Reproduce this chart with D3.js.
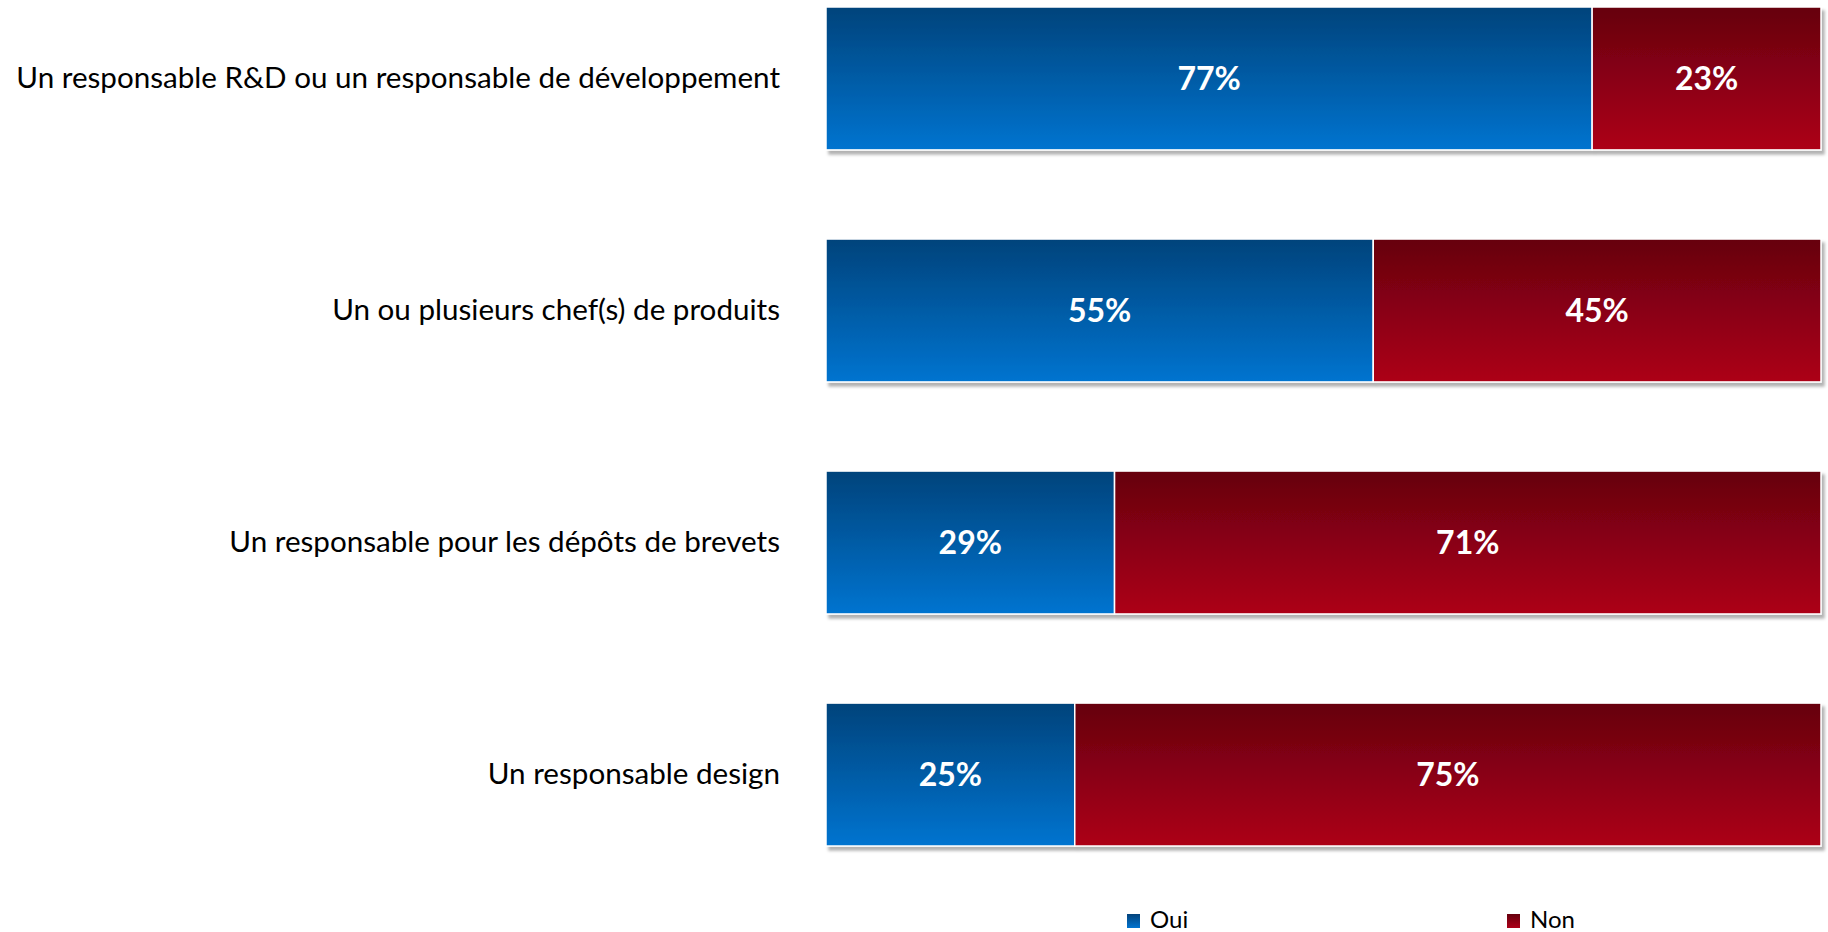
<!DOCTYPE html>
<html>
<head>
<meta charset="utf-8">
<script src="https://cdn.jsdelivr.net/npm/d3@7"></script>
<style>
  html, body { margin: 0; padding: 0; background: #ffffff; }
  svg { display: block; }
</style>
</head>
<body>
<svg id="chart" width="1828" height="932"></svg>
<script>
// Categories (top to bottom) and the share answering each way, in percent
const categories = [
  "Un responsable R&D ou un responsable de développement",
  "Un ou plusieurs chef(s) de produits",
  "Un responsable pour les dépôts de brevets",
  "Un responsable design"
];
const oui = [77, 55, 29, 25];
const non = [23, 45, 71, 75];
const seriesNames = ["Oui", "Non"];

const svg = d3.select("#chart");
const fontFamily = "Lato, 'Open Sans', sans-serif";

const x = d3.scaleLinear().domain([0, 100]).range([826, 1821]);
const y = d3.scaleBand().domain(categories).range([7, 846]).paddingInner(0.384).paddingOuter(0);

const defs = svg.append("defs");
const gradBlue = defs.append("linearGradient").attr("id", "gOui").attr("x1", 0).attr("y1", 0).attr("x2", 0).attr("y2", 1);
gradBlue.append("stop").attr("offset", "0%").attr("stop-color", "#03437b");
gradBlue.append("stop").attr("offset", "100%").attr("stop-color", "#0174d0");
const gradRed = defs.append("linearGradient").attr("id", "gNon").attr("x1", 0).attr("y1", 0).attr("x2", 0).attr("y2", 1);
gradRed.append("stop").attr("offset", "0%").attr("stop-color", "#66000e");
gradRed.append("stop").attr("offset", "100%").attr("stop-color", "#ad0019");

const shadow = defs.append("filter").attr("id", "shadow").attr("x", "-5%").attr("y", "-10%").attr("width", "115%").attr("height", "130%");
shadow.append("feDropShadow").attr("dx", 3).attr("dy", 4).attr("stdDeviation", 1.5)
  .attr("flood-color", "#000").attr("flood-opacity", 0.3);

const fills = ["url(#gOui)", "url(#gNon)"];
const rows = categories.map((c, i) => ({ cat: c, parts: [
  { name: "Oui", x0: 0, x1: oui[i] },
  { name: "Non", x0: oui[i], x1: oui[i] + non[i] }
]}));

const rowG = svg.selectAll("g.row").data(rows).join("g").attr("class", "row")
  .attr("filter", "url(#shadow)");

rowG.selectAll("rect").data(d => d.parts.map(p => ({ ...p, cat: d.cat }))).join("rect")
  .attr("x", d => x(d.x0))
  .attr("y", d => y(d.cat))
  .attr("width", d => x(d.x1) - x(d.x0))
  .attr("height", y.bandwidth())
  .attr("fill", (d, i) => fills[i])
  .attr("stroke", "#ffffff")
  .attr("stroke-width", 1.5);

// Value labels inside each segment
svg.selectAll("g.vals").data(rows).join("g").attr("class", "vals")
  .selectAll("text").data(d => d.parts.map(p => ({ ...p, cat: d.cat }))).join("text")
  .attr("x", d => (x(d.x0) + x(d.x1)) / 2)
  .attr("y", d => y(d.cat) + y.bandwidth() / 2)
  .attr("dy", "0.36em")
  .attr("text-anchor", "middle")
  .attr("font-family", fontFamily)
  .attr("font-weight", "bold")
  .attr("font-size", 32)
  .attr("fill", "#ffffff")
  .text(d => (d.x1 - d.x0) + "%");

// Category labels
const yAxis = d3.axisLeft(y).tickSize(0).tickPadding(0);
const axisG = svg.append("g").attr("transform", "translate(780,0)").call(yAxis);
axisG.select(".domain").remove();
axisG.selectAll("text")
  .attr("font-family", fontFamily)
  .attr("font-size", 29.6)
  .attr("fill", "#000000");

// Legend
const legendX = [1127, 1507];
const legend = svg.selectAll("g.legend").data(seriesNames).join("g").attr("class", "legend")
  .attr("transform", (d, i) => `translate(${legendX[i]},914)`);
legend.append("rect").attr("width", 13).attr("height", 14).attr("fill", (d, i) => fills[i]);
legend.append("text").attr("x", 23).attr("y", 14)
  .attr("font-family", fontFamily).attr("font-size", 24).attr("fill", "#000")
  .text(d => d);
</script>
</body>
</html>
